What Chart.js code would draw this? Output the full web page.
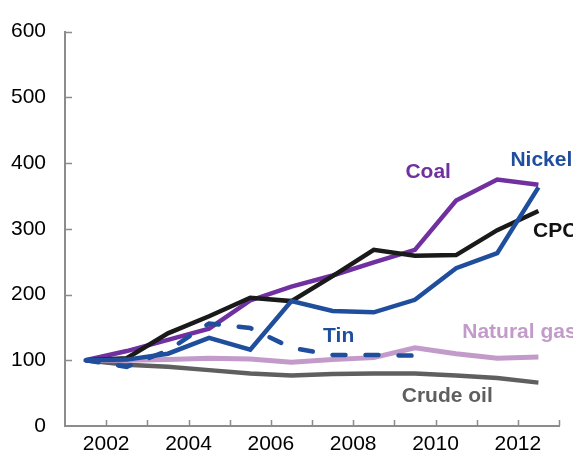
<!DOCTYPE html>
<html>
<head>
<meta charset="utf-8">
<script src="https://cdn.jsdelivr.net/npm/chart.js@4.4.0/dist/chart.umd.min.js"></script>
<style>
  html, body { margin: 0; padding: 0; background: #fff; }
  #wrap { width: 573px; height: 458px; }
</style>
</head>
<body>
<div id="wrap"><canvas id="myChart" width="573" height="458"></canvas></div>
<script>
// years, one point per year (drawn at mid-year)
var years = [2001, 2002, 2003, 2004, 2005, 2006, 2007, 2008, 2009, 2010, 2011, 2012]
var yTicks = [0, 100, 200, 300, 400, 500, 600]

// index values, start = 100
var nickel     = [100, 101, 110, 134, 116, 190, 175, 173, 192, 240, 263, 363]
var tin        = [100,  90, 115, 156, 149, 119, 108, 108, 107, null, null, null]
var cpc        = [100, 103, 141, 167, 195, 190, 228, 268, 259, 260, 298, 327]
var coal       = [100, 114, 131, 148, 191, 212, 229, 249, 268, 343, 375, 367]
var naturalGas = [100, 100, 101, 103, 102,  97, 101, 104, 119, 110, 103, 105]
var crudeOil   = [100,  93,  90,  85,  80,  77,  79,  80,  80,  77,  73,  66]

var FONT = "'Liberation Sans', Arial, sans-serif"
var AXIS = '#8c8c8c'

function pts(arr) {
    var out = []
    for (var i = 0; i < arr.length; i++) {
        out.push({x: i + 0.5, y: arr[i]})
    }
    return out
}

// series labels written on the plot (data coords of the left/middle of text)
var seriesLabels = [
    {text: 'Coal',        x: 8.27,  y: 386, color: '#7030a0'},
    {text: 'Nickel',      x: 10.82, y: 404, color: '#1f4e9c'},
    {text: 'CPC',         x: 11.37, y: 297, color: '#111111'},
    {text: 'Tin',         x: 6.27,  y: 137, color: '#1f4e9c'},
    {text: 'Natural gas', x: 9.65,  y: 142, color: '#c39bcb'},
    {text: 'Crude oil',   x: 8.18,  y: 46,  color: '#5f5f5f'}
]

var labelPlugin = {
    id: 'seriesLabels',
    afterDatasetsDraw: function(chart) {
        var ctx = chart.ctx
        var xs = chart.scales.x, ys = chart.scales.y
        ctx.save()
        ctx.font = 'bold 21px ' + FONT
        ctx.textAlign = 'left'
        ctx.textBaseline = 'middle'
        seriesLabels.forEach(function(l) {
            ctx.fillStyle = l.color
            ctx.fillText(l.text, xs.getPixelForValue(l.x), ys.getPixelForValue(l.y))
        })
        ctx.restore()
    }
}

// small tick marks pointing into the plot
var innerTicks = {
    id: 'innerTicks',
    afterDraw: function(chart) {
        var ctx = chart.ctx
        var xs = chart.scales.x, ys = chart.scales.y
        var a = chart.chartArea
        ctx.save()
        ctx.strokeStyle = AXIS
        ctx.lineWidth = 1.5
        ctx.beginPath()
        for (var i = 1; i <= years.length; i++) {
            var px = Math.round(xs.getPixelForValue(i)) + 0.5
            ctx.moveTo(px, a.bottom)
            ctx.lineTo(px, a.bottom - 6)
        }
        yTicks.forEach(function(v) {
            if (v === 0) return
            var py = Math.round(ys.getPixelForValue(v)) + 0.5
            ctx.moveTo(a.left, py)
            ctx.lineTo(a.left + 7, py)
        })
        ctx.stroke()
        ctx.restore()
    }
}

function line(label, arr, color, width, dash) {
    return {
        label: label,
        data: pts(arr),
        borderColor: color,
        backgroundColor: color,
        borderWidth: width,
        borderDash: dash || [],
        borderCapStyle: dash ? 'round' : 'butt',
        borderJoinStyle: 'miter',
        pointRadius: 0,
        tension: 0,
        fill: false,
        spanGaps: false
    }
}

var ctx = document.getElementById('myChart').getContext('2d')
var chart = new Chart(ctx, {
    type: 'line',
    data: {
        datasets: [
            line('Nickel', nickel, '#1f4e9c', 4.5),
            line('Tin', tin, '#1f4e9c', 4.5, [13, 20]),
            line('CPC', cpc, '#1a1a1a', 4.5),
            line('Coal', coal, '#7030a0', 4.5),
            line('Natural gas', naturalGas, '#c39bcb', 5),
            line('Crude oil', crudeOil, '#5f5f5f', 4.5)
        ]
    },
    options: {
        responsive: false,
        animation: false,
        layout: {padding: {left: 0, right: 14, top: 28, bottom: 0}},
        plugins: {legend: {display: false}, tooltip: {enabled: false}},
        scales: {
            x: {
                type: 'linear',
                min: 0,
                max: 12,
                grid: {drawOnChartArea: false, drawTicks: false},
                border: {display: true, color: AXIS, width: 2},
                afterFit: function(s) { s.height = 32 },
                ticks: {
                    stepSize: 1,
                    autoSkip: false,
                    maxRotation: 0,
                    padding: 6,
                    color: '#000',
                    font: {family: FONT, size: 21},
                    callback: function(v) { return v % 2 === 1 ? String(years[v]) : '' }
                }
            },
            y: {
                min: 0,
                max: 600,
                grid: {drawOnChartArea: false, drawTicks: false},
                border: {display: true, color: AXIS, width: 2},
                afterFit: function(s) { s.width = 65 },
                afterBuildTicks: function(s) { s.ticks = yTicks.map(function(v) { return {value: v} }) },
                ticks: {
                    padding: 19,
                    color: '#000',
                    font: {family: FONT, size: 21}
                }
            }
        }
    },
    plugins: [labelPlugin, innerTicks]
})
</script>
</body>
</html>
